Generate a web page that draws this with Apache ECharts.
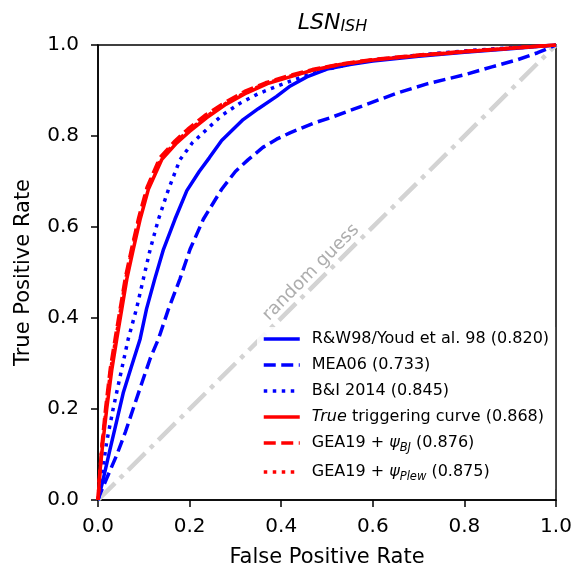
<!DOCTYPE html>
<html>
<head>
<meta charset="utf-8">
<script src="https://cdn.jsdelivr.net/npm/echarts@6/dist/echarts.min.js"></script>
<style>
html,body{margin:0;padding:0;background:#fff;}
#c{width:583px;height:573px;}
</style>
</head>
<body>
<div id="c"></div>
<script>
var tickLabels = ['0.0','0.2','0.4','0.6','0.8','1.0'];
var seriesNames = [
  'R&W98/Youd et al. 98 (0.820)',
  'MEA06 (0.733)',
  'B&I 2014 (0.845)',
  'True triggering curve (0.868)',
  'GEA19 + psiBJ (0.876)',
  'GEA19 + psiPlew (0.875)'
];
var rwFpr  = [0,0.01,0.026,0.04,0.055,0.072,0.092,0.106,0.124,0.143,0.168,0.194,0.221,0.243,0.27,0.317,0.35,0.39,0.42,0.456,0.5,0.55,0.6,0.7,0.8,0.9,1];
var rwTpr  = [0,0.04,0.11,0.17,0.235,0.29,0.354,0.42,0.486,0.551,0.617,0.68,0.722,0.752,0.79,0.836,0.86,0.887,0.91,0.93,0.947,0.957,0.965,0.975,0.984,0.992,1];
var meaFpr = [0,0.004,0.02,0.041,0.06,0.077,0.095,0.114,0.132,0.154,0.179,0.201,0.23,0.27,0.3,0.328,0.36,0.39,0.419,0.47,0.507,0.58,0.652,0.72,0.798,0.86,0.914,0.96,1];
var meaTpr = [0,0.012,0.05,0.099,0.15,0.201,0.255,0.311,0.354,0.42,0.486,0.551,0.617,0.683,0.722,0.748,0.775,0.793,0.807,0.828,0.84,0.867,0.894,0.915,0.934,0.952,0.967,0.983,1];
var biFpr  = [0,0.008,0.019,0.033,0.048,0.066,0.084,0.099,0.114,0.132,0.154,0.179,0.206,0.237,0.27,0.31,0.35,0.39,0.44,0.492,0.55,0.6,0.7,0.8,0.9,1];
var biTpr  = [0,0.05,0.128,0.2,0.27,0.354,0.42,0.486,0.551,0.617,0.683,0.748,0.785,0.814,0.845,0.872,0.893,0.909,0.928,0.945,0.958,0.967,0.978,0.987,0.994,1];
var trueFpr = [0,0.004,0.01,0.019,0.03,0.041,0.052,0.063,0.077,0.092,0.11,0.139,0.172,0.2,0.237,0.28,0.325,0.37,0.419,0.47,0.528,0.6,0.7,0.8,0.9,1];
var trueTpr = [0,0.06,0.12,0.2,0.285,0.354,0.42,0.486,0.551,0.617,0.683,0.748,0.785,0.81,0.84,0.87,0.895,0.915,0.93,0.945,0.957,0.967,0.977,0.985,0.993,1];
var bjFpr  = [0,0.004,0.009,0.017,0.027,0.038,0.049,0.06,0.074,0.089,0.107,0.135,0.168,0.196,0.233,0.276,0.32,0.366,0.415,0.468,0.528,0.6,0.7,0.8,0.9,1];
var bjTpr  = [0,0.06,0.125,0.205,0.29,0.358,0.424,0.49,0.555,0.621,0.687,0.752,0.789,0.815,0.845,0.873,0.898,0.917,0.932,0.946,0.958,0.968,0.978,0.986,0.993,1];
var plewFpr = [0,0.004,0.009,0.018,0.028,0.039,0.05,0.061,0.075,0.09,0.108,0.137,0.17,0.198,0.235,0.278,0.322,0.368,0.417,0.469,0.528,0.6,0.7,0.8,0.9,1];
var plewTpr = [0,0.06,0.123,0.203,0.288,0.356,0.422,0.488,0.553,0.619,0.685,0.75,0.787,0.812,0.842,0.871,0.896,0.916,0.931,0.945,0.957,0.967,0.977,0.985,0.993,1];
var guessX = [0,1];
var guessY = [0,1];
var guessLabelPos = [[0.465,0.5]];

function pairs(xs, ys){ return xs.map(function(x,i){ return [x, ys[i]]; }); }

var chart = echarts.init(document.getElementById('c'), null, {renderer:'canvas'});
var FONT = 'DejaVu Sans';
var lw = 3.5;
var DASH = [12,5.5];
var DOT = [3.5,5.5];
function lineSeries(name, xs, ys, color, type, z){
  return {name:name, type:'line', data:pairs(xs,ys), showSymbol:false, symbol:'none',
    lineStyle:{color:color, width:lw, type:type, cap:'butt'}, itemStyle:{color:color}, z:z};
}
var legendRich = {
  sp:{width:7, fontSize:16},
  n:{fontFamily:FONT, fontSize:16, color:'#000'},
  it:{fontFamily:FONT, fontSize:16, fontStyle:'italic', color:'#000'},
  sub:{fontFamily:FONT, fontSize:11.5, fontStyle:'italic', color:'#000', padding:[10,0,0,0]}
};
var legendText = {};
legendText[seriesNames[0]] = '{sp| }{n|R&W98/Youd et al. 98 (0.820)}';
legendText[seriesNames[1]] = '{sp| }{n|MEA06 (0.733)}';
legendText[seriesNames[2]] = '{sp| }{n|B&I 2014 (0.845)}';
legendText[seriesNames[3]] = '{sp| }{it|True}{n| triggering curve (0.868)}';
legendText[seriesNames[4]] = '{sp| }{n|GEA19 + }{it|ψ}{sub|BJ}{n| (0.876)}';
legendText[seriesNames[5]] = '{sp| }{n|GEA19 + }{it|ψ}{sub|Plew}{n| (0.875)}';

chart.setOption({
  backgroundColor:'#fff',
  animation:false,
  title:{
    text:'{a|LSN}{b|ISH}', left:327.5, top:7, textAlign:'center',
    textStyle:{fontWeight:'normal', rich:{
      a:{fontFamily:FONT, fontSize:22, fontStyle:'italic', fontWeight:'normal', color:'#000'},
      b:{fontFamily:FONT, fontSize:16, fontStyle:'italic', fontWeight:'normal', color:'#000', padding:[7,0,0,0]}
    }}
  },
  grid:{left:98, right:27, top:45, bottom:71, show:true, borderColor:'#000', borderWidth:1.5, backgroundColor:'transparent'},
  legend:{
    data:seriesNames, left:257, top:327, orient:'vertical',
    itemWidth:36, itemHeight:14, itemGap:10,
    backgroundColor:'rgba(255,255,255,0.85)', padding:[4,6,6,5], borderWidth:0,
    itemStyle:{opacity:0},
    lineStyle:{width:3.5},
    formatter:function(n){ return legendText[n]; },
    textStyle:{fontFamily:FONT, fontSize:16, color:'#000', rich:legendRich}
  },
  xAxis:{
    type:'value', min:0, max:1, interval:0.2,
    name:'False Positive Rate', nameLocation:'middle', nameGap:47,
    nameTextStyle:{fontFamily:FONT, fontSize:21, color:'#000'},
    axisLine:{show:true, onZero:false, lineStyle:{color:'#000', width:1.5}},
    axisTick:{show:true, length:7, lineStyle:{color:'#000', width:1.5}},
    axisLabel:{fontFamily:FONT, fontSize:20, color:'#000', margin:17,
      formatter:function(v){ return tickLabels[Math.round(v/0.2)]; }},
    splitLine:{show:false}
  },
  yAxis:{
    type:'value', min:0, max:1, interval:0.2,
    name:'True Positive Rate', nameLocation:'middle', nameGap:64, nameRotate:90,
    nameTextStyle:{fontFamily:FONT, fontSize:21, color:'#000'},
    axisLine:{show:true, onZero:false, lineStyle:{color:'#000', width:1.5}},
    axisTick:{show:true, length:7, lineStyle:{color:'#000', width:1.5}},
    axisLabel:{fontFamily:FONT, fontSize:20, color:'#000', margin:19,
      formatter:function(v){ return tickLabels[Math.round(v/0.2)]; }},
    splitLine:{show:false}
  },
  series:[
    {name:'guess', type:'line', data:pairs(guessX,guessY), symbol:'none',
      lineStyle:{color:'#d3d3d3', width:4.5, type:[24,7,4.5,7]}, z:1, silent:true},
    {name:'guessLabel', type:'scatter', data:guessLabelPos, symbolSize:0, silent:true, z:1,
      label:{show:true, formatter:'random guess', rotate:45, position:'inside',
        fontFamily:FONT, fontSize:18, color:'#999999'}},
    lineSeries(seriesNames[0], rwFpr, rwTpr, '#0000ff', 'solid', 3),
    lineSeries(seriesNames[1], meaFpr, meaTpr, '#0000ff', DASH, 3),
    lineSeries(seriesNames[2], biFpr, biTpr, '#0000ff', DOT, 3),
    lineSeries(seriesNames[3], trueFpr, trueTpr, '#ff0000', 'solid', 4),
    lineSeries(seriesNames[4], bjFpr, bjTpr, '#ff0000', DASH, 4),
    lineSeries(seriesNames[5], plewFpr, plewTpr, '#ff0000', DOT, 4)
  ]
});
</script>
</body>
</html>
